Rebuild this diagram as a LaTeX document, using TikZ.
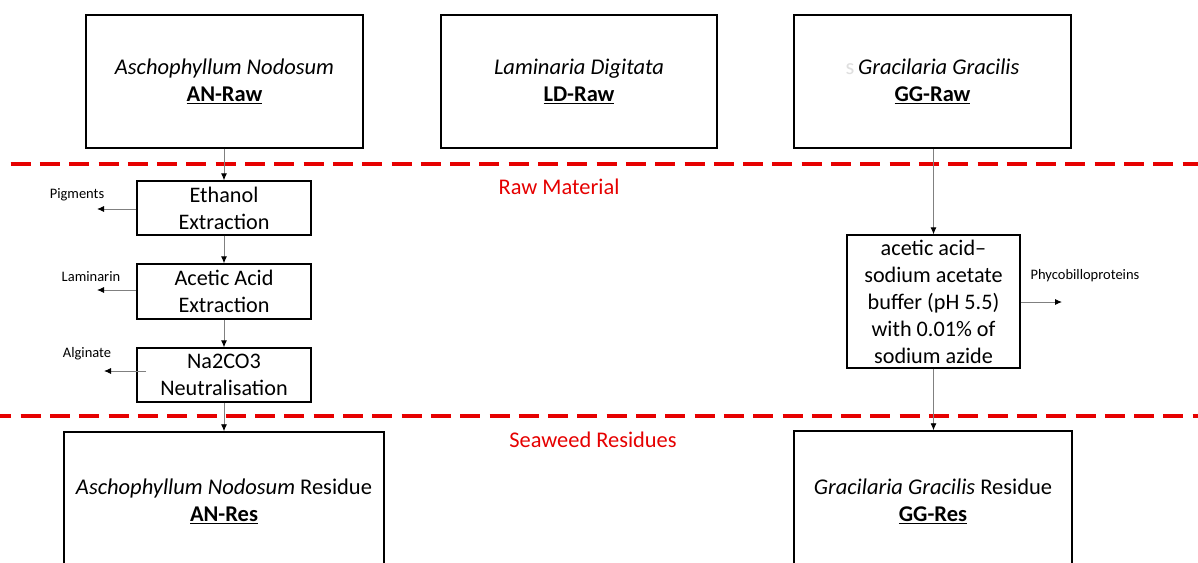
\documentclass[tikz,border=0pt]{standalone}
\usepackage{fontspec}
\setmainfont{Carlito}
\usetikzlibrary{arrows.meta}
\begin{document}
\begin{tikzpicture}[x=1pt,y=-1pt,
  bigbox/.style={draw=black, line width=1.5pt, align=center, inner sep=0pt, font=\fontsize{22.5}{27}\selectfont},
  stepbox/.style={draw=black, line width=1.3pt, align=center, inner sep=0pt, font=\fontsize{22.2}{27}\selectfont},
  lbl/.style={font=\fontsize{14.5}{16}\selectfont, inner sep=0pt},
  conn/.style={draw=gray, line width=0.9pt, -{Latex[length=7pt,width=6pt,color=black]}},
  sepline/.style={draw={rgb,255:red,230;green,0;blue,0}, line width=4pt, dash pattern=on 20pt off 9.3pt},
  sectlabel/.style={text={rgb,255:red,230;green,0;blue,0}, font=\fontsize{22.4}{26}\selectfont, inner sep=0pt}]
\clip (0,0) rectangle (1198,562);
\fill[white] (0,0) rectangle (1198,562);

% top boxes
\node[bigbox, minimum width=277pt, minimum height=133pt] (anraw) at (224.5,81.5)
  {\textit{Aschophyllum Nodosum}\\\underline{\textbf{AN-Raw}}};
\node[bigbox, minimum width=276pt, minimum height=133pt] (ldraw) at (579,81.5)
  {\textit{Laminaria Digitata}\\\underline{\textbf{LD-Raw}}};
\node[bigbox, minimum width=277pt, minimum height=133pt] (ggraw) at (932.5,81.5)
  {{\color{gray!25}s}\,\textit{Gracilaria Gracilis}\\\underline{\textbf{GG-Raw}}};

% separators
\coordinate (s1a) at (10.6,164);
\coordinate (s1b) at (1198,164);
\coordinate (s2a) at (-8.6,416);
\coordinate (s2b) at (1198,416);
\draw[sepline] (s1a) -- (s1b);
\draw[sepline] (s2a) -- (s2b);
\node[sectlabel] (rawlbl) at (559,187) {Raw Material};
\node[sectlabel] (reslbl) at (593,440) {Seaweed Residues};

% AN process
\node[stepbox, minimum width=174pt, minimum height=54pt] (eth) at (224,208)
  {Ethanol\\Extraction};
\node[stepbox, minimum width=174pt, minimum height=55pt] (acet) at (224,291.5)
  {Acetic Acid\\Extraction};
\node[stepbox, minimum width=174pt, minimum height=54pt] (na) at (224,375)
  {Na2CO3\\Neutralisation};

% GG process
\node[stepbox, minimum width=173pt, minimum height=133pt] (buf) at (933.5,301.5)
  {acetic acid–\\sodium acetate\\buffer (pH 5.5)\\with 0.01\% of\\sodium azide};

% residue boxes
\node[bigbox, minimum width=320pt, minimum height=138pt] (anres) at (224,501)
  {\textit{Aschophyllum Nodosum} Residue\\\underline{\textbf{AN-Res}}};
\node[bigbox, minimum width=278pt, minimum height=140pt] (ggres) at (933,501)
  {\textit{Gracilaria Gracilis} Residue\\\underline{\textbf{GG-Res}}};

% side labels
\node[lbl] (pig) at (77,195) {Pigments};
\node[lbl] (lam) at (91,277) {Laminarin};
\node[lbl] (alg) at (87,354) {Alginate};
\node[lbl] (phy) at (1085,276) {Phycobilloproteins};

% connectors
\draw[conn] (anraw.south -| eth.north) -- (eth.north);
\draw[conn] (eth) -- (acet);
\draw[conn] (acet) -- (na);
\draw[conn] (na.south) -- (anres.north -| na.south);
\draw[conn] (ggraw.south -| buf.north) -- (buf.north);
\draw[conn] (buf.south) -- (ggres.north -| buf.south);

\coordinate (pigE) at (97,209);
\coordinate (lamE) at (97,290);
\coordinate (algS) at (146,371);
\coordinate (algE) at (104,371);
\coordinate (phyE) at (1062,302);
\draw[conn] (eth.west |- pigE) -- (pigE);
\draw[conn] (acet.west |- lamE) -- (lamE);
\draw[conn] (algS) -- (algE);
\draw[conn] (buf.east |- phyE) -- (phyE);
\end{tikzpicture}
\end{document}
